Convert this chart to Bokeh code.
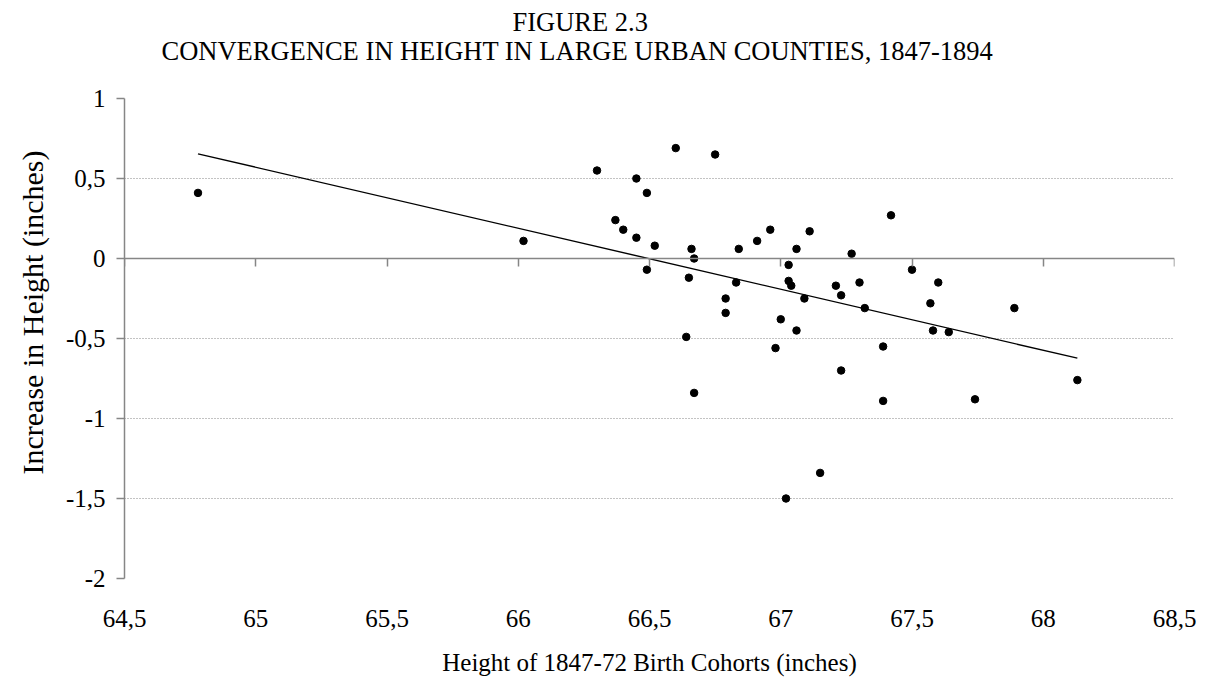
from bokeh.plotting import figure
from bokeh.models import (LinearAxis, FixedTicker, Range1d, Grid, Title,
                          CustomJSTickFormatter)
from bokeh.embed import file_html
from bokeh.resources import INLINE

# ---- data ----
heights = [64.78, 66.02, 66.30, 66.45, 66.49, 66.37, 66.40, 66.45, 66.52, 66.49,
           66.60, 66.75, 66.66, 66.67, 66.65, 66.64, 66.67, 66.83, 66.79, 66.79,
           66.84, 66.91, 66.96, 67.00, 66.98, 67.06, 67.03, 67.03, 67.04, 67.06,
           67.11, 67.09, 67.21, 67.23, 67.27, 67.30, 67.32, 67.42, 67.23, 67.39,
           67.39, 67.50, 67.57, 67.60, 67.58, 67.64, 67.74, 67.89, 68.13, 67.15,
           67.02]
increases = [0.41, 0.11, 0.55, 0.50, 0.41, 0.24, 0.18, 0.13, 0.08, -0.07,
             0.69, 0.65, 0.06, 0.00, -0.12, -0.49, -0.84, -0.15, -0.25, -0.34,
             0.06, 0.11, 0.18, -0.38, -0.56, -0.45, -0.04, -0.14, -0.17, 0.06,
             0.17, -0.25, -0.17, -0.23, 0.03, -0.15, -0.31, 0.27, -0.70, -0.55,
             -0.89, -0.07, -0.28, -0.15, -0.45, -0.46, -0.88, -0.31, -0.76, -1.34,
             -1.50]

# linear trend line as drawn in the reference (end points)
trend_x = [64.78, 68.13]
trend_y = [0.654, -0.623]

x_ticks = [64.5, 65, 65.5, 66, 66.5, 67, 67.5, 68, 68.5]
x_tick_labels = ["64,5", "65", "65,5", "66", "66,5", "67", "67,5", "68", "68,5"]
y_ticks = [-2, -1.5, -1, -0.5, 0, 0.5, 1]
y_tick_labels = ["-2", "-1,5", "-1", "-0,5", "0", "0,5", "1"]

title_line1 = "FIGURE 2.3"
title_line2 = "CONVERGENCE IN HEIGHT IN LARGE URBAN COUNTIES, 1847-1894"
x_title = "Height of 1847-72 Birth Cohorts (inches)"
y_title = "Increase in Height (inches)"

FONT = "'Liberation Serif', serif"
GREY = "#868686"
FS = "25px"

LABEL_JS = "return labels[index];"

p = figure(width=1206, height=680, output_backend="svg", toolbar_location=None,
           title=None,
           x_range=Range1d(x_ticks[0], x_ticks[-1]), y_range=Range1d(y_ticks[0], y_ticks[-1]),
           x_axis_type=None, y_axis_type=None,
           min_border_left=122, min_border_right=32, min_border_top=98, min_border_bottom=102)
p.outline_line_color = None
p.background_fill_color = "white"
p.border_fill_color = "white"

# y axis (ticks + labels)
yaxis = LinearAxis(ticker=FixedTicker(ticks=y_ticks),
                   formatter=CustomJSTickFormatter(args=dict(labels=y_tick_labels), code=LABEL_JS),
                   axis_line_color=GREY, axis_line_width=1.5,
                   major_tick_line_color=GREY, major_tick_line_width=1.5,
                   major_tick_out=8, major_tick_in=0,
                   minor_tick_line_color=None,
                   major_label_standoff=11,
                   major_label_text_font=FONT, major_label_text_font_size=FS,
                   major_label_text_color="black")
p.add_layout(yaxis, "left")

# vertical axis title
ytitle = Title(text=y_title, align="left", offset=104, standoff=27,
               text_font=FONT, text_font_size="30px", text_font_style="normal",
               text_color="black")
p.add_layout(ytitle, "left")

# horizontal axis line crossing at y = 0 (ticks pointing down, no labels)
zaxis = LinearAxis(fixed_location=0, ticker=FixedTicker(ticks=x_ticks),
                   formatter=CustomJSTickFormatter(code="return '';"),
                   axis_line_color=GREY, axis_line_width=1.5,
                   major_tick_line_color=GREY, major_tick_line_width=1.5,
                   major_tick_out=0, major_tick_in=8,
                   minor_tick_line_color=None,
                   major_label_text_font_size="1px",
                   major_label_standoff=0)
p.add_layout(zaxis, "above")

# x tick labels + axis title at the bottom of the plot area
xaxis = LinearAxis(ticker=FixedTicker(ticks=x_ticks),
                   formatter=CustomJSTickFormatter(args=dict(labels=x_tick_labels), code=LABEL_JS),
                   axis_label=x_title,
                   axis_line_color=None, major_tick_line_color=None,
                   minor_tick_line_color=None,
                   major_tick_out=0, major_tick_in=0,
                   major_label_standoff=31,
                   major_label_text_font=FONT, major_label_text_font_size=FS,
                   major_label_text_color="black",
                   axis_label_text_font=FONT, axis_label_text_font_size=FS,
                   axis_label_text_font_style="normal", axis_label_text_color="black",
                   axis_label_standoff=19)
p.add_layout(xaxis, "below")

ygrid = Grid(dimension=1, ticker=FixedTicker(ticks=y_ticks),
             grid_line_color=GREY, grid_line_dash="1 2", grid_line_width=1)
p.add_layout(ygrid)

p.line(trend_x, trend_y, line_color="black", line_width=1.4)
p.scatter(heights, increases, size=7.5, fill_color="black", line_color="black")

# two-line chart title
t2 = Title(text=title_line2, align="left", offset=37, standoff=66, text_font=FONT,
           text_font_size="26.5px", text_font_style="normal", text_color="black")
p.add_layout(t2, "above")
t1 = Title(text=title_line1, align="left", offset=388, standoff=-72, text_font=FONT,
           text_font_size="26.5px", text_font_style="normal", text_color="black")
p.add_layout(t1, "above")

open("out.html", "w").write(file_html(p, INLINE))
